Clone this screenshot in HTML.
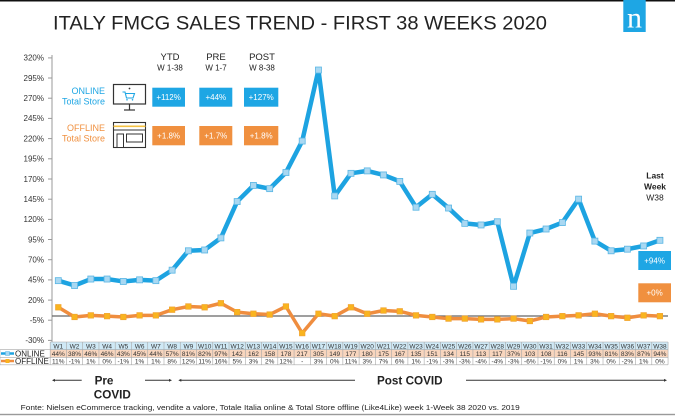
<!DOCTYPE html>
<html><head><meta charset="utf-8"><style>
html,body{margin:0;padding:0;background:#fff;}
svg{display:block;font-family:"Liberation Sans",Arial,sans-serif;}
</style></head><body>
<svg width="675" height="416" viewBox="0 0 675 416" xmlns="http://www.w3.org/2000/svg">
<defs>
<marker id="mo" markerUnits="userSpaceOnUse" markerWidth="8" markerHeight="8" refX="4" refY="4" viewBox="0 0 8 8"><rect x="1" y="1" width="6" height="6" fill="#a9d8f2" stroke="#5ab6e4" stroke-width="0.8"/></marker>
<marker id="mf" markerUnits="userSpaceOnUse" markerWidth="8" markerHeight="8" refX="4" refY="4" viewBox="0 0 8 8"><rect x="1.2" y="1.2" width="5.6" height="5.6" fill="#f9b41f" stroke="#f0a030" stroke-width="0.6"/></marker>
</defs>
<rect x="0" y="0" width="675" height="1.5" fill="#111"/>
<rect x="0" y="413.8" width="675" height="1.4" fill="#9a9a9a"/>
<text x="53" y="29.5" font-size="19" fill="#222" textLength="494" lengthAdjust="spacingAndGlyphs">ITALY FMCG SALES TREND - FIRST 38 WEEKS 2020</text>
<rect x="623.3" y="0" width="22.4" height="32" fill="#1ea6e4"/>
<text x="634.5" y="27.5" font-size="30" fill="#fff" text-anchor="middle" font-family="Liberation Serif,serif">n</text>
<!-- y axis -->
<line x1="52" y1="55" x2="52" y2="342" stroke="#999" stroke-width="1"/>
<g stroke="#999" stroke-width="1">
<line x1="48" y1="57.9" x2="52" y2="57.9"/><line x1="48" y1="78" x2="52" y2="78"/><line x1="48" y1="98.2" x2="52" y2="98.2"/><line x1="48" y1="118.4" x2="52" y2="118.4"/><line x1="48" y1="138.6" x2="52" y2="138.6"/><line x1="48" y1="158.8" x2="52" y2="158.8"/><line x1="48" y1="179" x2="52" y2="179"/><line x1="48" y1="199.2" x2="52" y2="199.2"/><line x1="48" y1="219.4" x2="52" y2="219.4"/><line x1="48" y1="239.5" x2="52" y2="239.5"/><line x1="48" y1="259.7" x2="52" y2="259.7"/><line x1="48" y1="279.9" x2="52" y2="279.9"/><line x1="48" y1="300.1" x2="52" y2="300.1"/><line x1="48" y1="320.2" x2="52" y2="320.2"/><line x1="48" y1="340.4" x2="52" y2="340.4"/>
</g>
<g font-size="8" fill="#333" text-anchor="end">
<text x="44" y="60.7">320%</text><text x="44" y="80.8">295%</text><text x="44" y="101">270%</text><text x="44" y="121.2">245%</text><text x="44" y="141.4">220%</text><text x="44" y="161.6">195%</text><text x="44" y="181.8">170%</text><text x="44" y="202">145%</text><text x="44" y="222.2">120%</text><text x="44" y="242.3">95%</text><text x="44" y="262.5">70%</text><text x="44" y="282.7">45%</text><text x="44" y="302.9">20%</text><text x="44" y="323">-5%</text><text x="44" y="343.2">-30%</text>
</g>
<!-- zero line -->
<line x1="52" y1="316" x2="668" y2="316" stroke="#666" stroke-width="1.2"/>
<!-- legend/headers -->
<g fill="#222" text-anchor="middle">
<text x="170" y="60" font-size="9.5">YTD</text><text x="170" y="70.7" font-size="8">W 1-38</text>
<text x="216" y="60" font-size="9.5">PRE</text><text x="216" y="70.7" font-size="8">W 1-7</text>
<text x="262" y="60" font-size="9.5">POST</text><text x="262" y="70.7" font-size="8">W 8-38</text>
</g>
<g text-anchor="end" font-size="9">
<text x="105" y="94" fill="#1ea6e4">ONLINE</text><text x="105" y="104.3" fill="#1ea6e4">Total Store</text>
<text x="105" y="131" fill="#f0903f">OFFLINE</text><text x="105" y="141.7" fill="#f0903f">Total Store</text>
</g>
<!-- monitor icon -->
<rect x="113.5" y="84.5" width="32" height="19.5" fill="#fff" stroke="#333" stroke-width="1.2"/>
<line x1="129.5" y1="104" x2="129.5" y2="109.5" stroke="#333" stroke-width="1.2"/>
<line x1="124" y1="110" x2="135" y2="110" stroke="#333" stroke-width="1.2"/>
<circle cx="129.5" cy="88.5" r="0.9" fill="#333"/>
<path d="M122.5 92 L125 92 L126.5 98 L133 98 L134.5 93.5 L125.5 93.5" fill="none" stroke="#1ea6e4" stroke-width="1.1"/>
<circle cx="127" cy="99.8" r="0.8" fill="#1ea6e4"/><circle cx="132.5" cy="99.8" r="0.8" fill="#1ea6e4"/>
<!-- store icon -->
<rect x="113.5" y="122.5" width="32" height="25" fill="#fff" stroke="#333" stroke-width="1.1"/>
<line x1="113.5" y1="126.3" x2="145.5" y2="126.3" stroke="#f5c242" stroke-width="1.6"/>
<line x1="113.5" y1="130" x2="145.5" y2="130" stroke="#333" stroke-width="1"/>
<rect x="117" y="134" width="6.5" height="13.5" fill="#fff" stroke="#333" stroke-width="1"/>
<rect x="126.5" y="134" width="16" height="8" fill="#fff" stroke="#333" stroke-width="1"/>
<!-- boxes -->
<g fill="#1ea6e4"><rect x="152.3" y="87.7" width="32.7" height="19"/><rect x="199.3" y="87.7" width="33" height="19"/><rect x="244" y="87.7" width="34.3" height="19"/><rect x="638.3" y="251" width="32.7" height="19"/></g>
<g fill="#f0903f"><rect x="152.3" y="126" width="32.7" height="19.3"/><rect x="199.3" y="126" width="33" height="19.3"/><rect x="244" y="126" width="34.3" height="19.3"/><rect x="638.3" y="283.3" width="32.7" height="19"/></g>
<g fill="#fff" font-size="8" text-anchor="middle">
<text x="168.6" y="100">+112%</text><text x="215.8" y="100">+44%</text><text x="261.2" y="100">+127%</text>
<text x="168.6" y="138.5">+1.8%</text><text x="215.8" y="138.5">+1.7%</text><text x="261.2" y="138.5">+1.8%</text>
<text x="654.6" y="263.3">+94%</text><text x="654.6" y="295.6">+0%</text>
</g>
<g text-anchor="middle" fill="#222" font-size="8.5">
<text x="655" y="178.7" font-weight="bold">Last</text>
<text x="655" y="189.3" font-weight="bold">Week</text>
<text x="655" y="200.3">W38</text>
</g>
<!-- series -->
<polyline fill="none" stroke="#ef8d3f" stroke-width="3.5" stroke-linejoin="round" marker-start="url(#mf)" marker-mid="url(#mf)" marker-end="url(#mf)" points="58.3,307.29 74.56,316.97 90.82,315.36 107.08,316.16 123.34,316.97 139.6,315.36 155.86,315.36 172.12,309.71 188.38,306.48 204.64,307.29 220.9,303.25 237.16,312.13 253.42,313.74 269.68,314.55 285.94,306.48 302.2,333.11 318.46,313.74 334.72,316.16 350.98,307.29 367.24,313.74 383.5,310.52 399.76,311.32 416.02,315.36 432.28,316.97 448.54,318.59 464.8,318.59 481.06,319.39 497.32,319.39 513.58,318.59 529.84,321.01 546.1,316.97 562.36,316.16 578.62,315.36 594.88,313.74 611.14,316.16 627.4,317.78 643.66,315.36 659.92,316.16"/>
<polyline fill="none" stroke="#1da3e1" stroke-width="4.5" stroke-linejoin="round" marker-start="url(#mo)" marker-mid="url(#mo)" marker-end="url(#mo)" points="58.3,280.66 74.56,285.5 90.82,279.04 107.08,279.04 123.34,281.46 139.6,279.85 155.86,280.66 172.12,270.17 188.38,250.8 204.64,249.99 220.9,237.89 237.16,201.57 253.42,185.43 269.68,188.66 285.94,172.52 302.2,141.05 318.46,70.03 334.72,195.92 350.98,173.33 367.24,170.9 383.5,174.94 399.76,181.4 416.02,207.22 432.28,194.31 448.54,208.03 464.8,223.36 481.06,224.97 497.32,221.75 513.58,286.31 529.84,233.04 546.1,229.01 562.36,222.55 578.62,199.15 594.88,241.11 611.14,250.8 627.4,249.18 643.66,245.96 659.92,240.31"/>
<!-- table -->
<rect x="50.17" y="342" width="617.88" height="7.7" fill="#cfe9f6"/>
<rect x="50.17" y="349.7" width="617.88" height="7.6" fill="#f8d5bd"/>
<g stroke="#a8a8a8" stroke-width="0.6">
<line x1="50.17" y1="342" x2="668.05" y2="342"/>
<line x1="0" y1="349.7" x2="668.05" y2="349.7"/>
<line x1="0" y1="357.3" x2="668.05" y2="357.3"/>
<line x1="0" y1="364.8" x2="668.05" y2="364.8"/>
<line x1="0" y1="349.7" x2="0" y2="364.8"/>
<path d="M50.17 342V364.8M66.43 342V364.8M82.69 342V364.8M98.95 342V364.8M115.21 342V364.8M131.47 342V364.8M147.73 342V364.8M163.99 342V364.8M180.25 342V364.8M196.51 342V364.8M212.77 342V364.8M229.03 342V364.8M245.29 342V364.8M261.55 342V364.8M277.81 342V364.8M294.07 342V364.8M310.33 342V364.8M326.59 342V364.8M342.85 342V364.8M359.11 342V364.8M375.37 342V364.8M391.63 342V364.8M407.89 342V364.8M424.15 342V364.8M440.41 342V364.8M456.67 342V364.8M472.93 342V364.8M489.19 342V364.8M505.45 342V364.8M521.71 342V364.8M537.97 342V364.8M554.23 342V364.8M570.49 342V364.8M586.75 342V364.8M603.01 342V364.8M619.27 342V364.8M635.53 342V364.8M651.79 342V364.8M668.05 342V364.8"/>
</g>
<line x1="1" y1="353.5" x2="14" y2="353.5" stroke="#1da3e1" stroke-width="2.5"/>
<rect x="5.5" y="351.5" width="4" height="4" fill="#a9d8f2" stroke="#5ab6e4" stroke-width="0.5"/>
<line x1="1" y1="361" x2="14" y2="361" stroke="#ef8d3f" stroke-width="2.5"/>
<rect x="5.5" y="359" width="4" height="4" fill="#f9b41f"/>
<text x="15" y="356.4" font-size="8" fill="#222">ONLINE</text>
<text x="15" y="364" font-size="8" fill="#222">OFFLINE</text>
<g font-size="6.5" fill="#333" text-anchor="middle">
<text x="58.3" y="348.4">W1</text><text x="74.56" y="348.4">W2</text><text x="90.82" y="348.4">W3</text><text x="107.08" y="348.4">W4</text><text x="123.34" y="348.4">W5</text><text x="139.6" y="348.4">W6</text><text x="155.86" y="348.4">W7</text><text x="172.12" y="348.4">W8</text><text x="188.38" y="348.4">W9</text><text x="204.64" y="348.4">W10</text><text x="220.9" y="348.4">W11</text><text x="237.16" y="348.4">W12</text><text x="253.42" y="348.4">W13</text><text x="269.68" y="348.4">W14</text><text x="285.94" y="348.4">W15</text><text x="302.2" y="348.4">W16</text><text x="318.46" y="348.4">W17</text><text x="334.72" y="348.4">W18</text><text x="350.98" y="348.4">W19</text><text x="367.24" y="348.4">W20</text><text x="383.5" y="348.4">W21</text><text x="399.76" y="348.4">W22</text><text x="416.02" y="348.4">W23</text><text x="432.28" y="348.4">W24</text><text x="448.54" y="348.4">W25</text><text x="464.8" y="348.4">W26</text><text x="481.06" y="348.4">W27</text><text x="497.32" y="348.4">W28</text><text x="513.58" y="348.4">W29</text><text x="529.84" y="348.4">W30</text><text x="546.1" y="348.4">W31</text><text x="562.36" y="348.4">W32</text><text x="578.62" y="348.4">W33</text><text x="594.88" y="348.4">W34</text><text x="611.14" y="348.4">W35</text><text x="627.4" y="348.4">W36</text><text x="643.66" y="348.4">W37</text><text x="659.92" y="348.4">W38</text>
</g>
<g font-size="6.5" fill="#333" text-anchor="middle">
<text x="58.3" y="355.9">44%</text><text x="74.56" y="355.9">38%</text><text x="90.82" y="355.9">46%</text><text x="107.08" y="355.9">46%</text><text x="123.34" y="355.9">43%</text><text x="139.6" y="355.9">45%</text><text x="155.86" y="355.9">44%</text><text x="172.12" y="355.9">57%</text><text x="188.38" y="355.9">81%</text><text x="204.64" y="355.9">82%</text><text x="220.9" y="355.9">97%</text><text x="237.16" y="355.9">142</text><text x="253.42" y="355.9">162</text><text x="269.68" y="355.9">158</text><text x="285.94" y="355.9">178</text><text x="302.2" y="355.9">217</text><text x="318.46" y="355.9">305</text><text x="334.72" y="355.9">149</text><text x="350.98" y="355.9">177</text><text x="367.24" y="355.9">180</text><text x="383.5" y="355.9">175</text><text x="399.76" y="355.9">167</text><text x="416.02" y="355.9">135</text><text x="432.28" y="355.9">151</text><text x="448.54" y="355.9">134</text><text x="464.8" y="355.9">115</text><text x="481.06" y="355.9">113</text><text x="497.32" y="355.9">117</text><text x="513.58" y="355.9">37%</text><text x="529.84" y="355.9">103</text><text x="546.1" y="355.9">108</text><text x="562.36" y="355.9">116</text><text x="578.62" y="355.9">145</text><text x="594.88" y="355.9">93%</text><text x="611.14" y="355.9">81%</text><text x="627.4" y="355.9">83%</text><text x="643.66" y="355.9">87%</text><text x="659.92" y="355.9">94%</text>
</g>
<g font-size="6.5" fill="#333" text-anchor="middle">
<text x="58.3" y="363.4">11%</text><text x="74.56" y="363.4">-1%</text><text x="90.82" y="363.4">1%</text><text x="107.08" y="363.4">0%</text><text x="123.34" y="363.4">-1%</text><text x="139.6" y="363.4">1%</text><text x="155.86" y="363.4">1%</text><text x="172.12" y="363.4">8%</text><text x="188.38" y="363.4">12%</text><text x="204.64" y="363.4">11%</text><text x="220.9" y="363.4">16%</text><text x="237.16" y="363.4">5%</text><text x="253.42" y="363.4">3%</text><text x="269.68" y="363.4">2%</text><text x="285.94" y="363.4">12%</text><text x="302.2" y="363.4">-</text><text x="318.46" y="363.4">3%</text><text x="334.72" y="363.4">0%</text><text x="350.98" y="363.4">11%</text><text x="367.24" y="363.4">3%</text><text x="383.5" y="363.4">7%</text><text x="399.76" y="363.4">6%</text><text x="416.02" y="363.4">1%</text><text x="432.28" y="363.4">-1%</text><text x="448.54" y="363.4">-3%</text><text x="464.8" y="363.4">-3%</text><text x="481.06" y="363.4">-4%</text><text x="497.32" y="363.4">-4%</text><text x="513.58" y="363.4">-3%</text><text x="529.84" y="363.4">-6%</text><text x="546.1" y="363.4">-1%</text><text x="562.36" y="363.4">0%</text><text x="578.62" y="363.4">1%</text><text x="594.88" y="363.4">3%</text><text x="611.14" y="363.4">0%</text><text x="627.4" y="363.4">-2%</text><text x="643.66" y="363.4">1%</text><text x="659.92" y="363.4">0%</text>
</g>
<!-- period arrows -->
<g stroke="#333" stroke-width="1" fill="#333">
<line x1="53" y1="380.3" x2="81.7" y2="380.3"/>
<path d="M52 380.3 L55 378.9 L55 381.7Z" stroke="none"/>
<line x1="145" y1="380.3" x2="170.5" y2="380.3"/>
<path d="M172 380.3 L169 378.9 L169 381.7Z" stroke="none"/>
<line x1="179.5" y1="380.3" x2="355" y2="380.3"/>
<path d="M178.3 380.3 L181.3 378.9 L181.3 381.7Z" stroke="none"/>
<line x1="466" y1="380.3" x2="665.5" y2="380.3"/>
<path d="M667 380.3 L664 378.9 L664 381.7Z" stroke="none"/>
</g>
<g font-size="11.7" font-weight="bold" fill="#222" text-anchor="middle">
<text x="104" y="384.4">Pre</text>
<text x="112.3" y="398.4">COVID</text>
<text x="409.8" y="384.4">Post COVID</text>
</g>
<text x="20.7" y="410" font-size="7.5" fill="#222" textLength="499" lengthAdjust="spacingAndGlyphs">Fonte: Nielsen eCommerce tracking, vendite a valore, Totale Italia online &amp; Total Store offline (Like4Like) week 1-Week 38 2020 vs. 2019</text>
</svg>
</body></html>
